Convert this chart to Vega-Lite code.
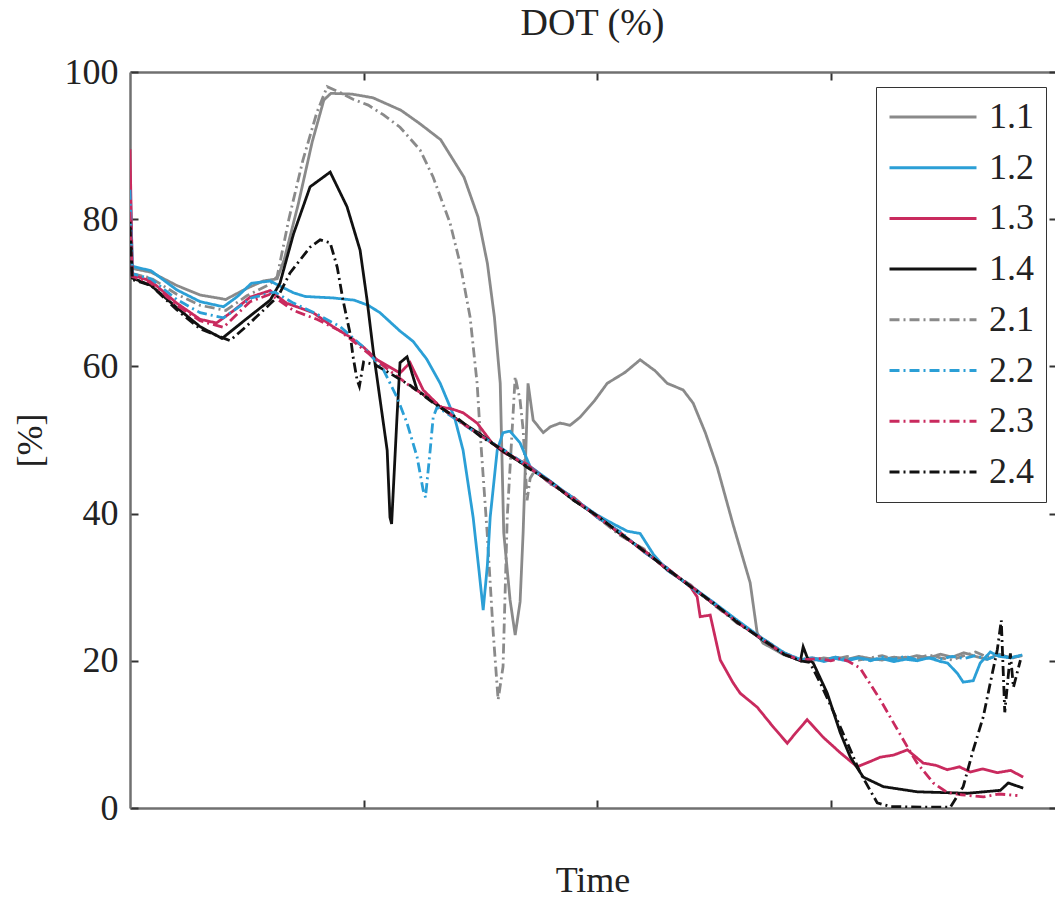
{
"$schema":"https://vega.github.io/schema/vega-lite/v6.json",
"width":925,"height":736,
"autosize":{"type":"none"},
"padding":{"left":130,"top":72,"right":0,"bottom":96},
"background":"white",
"title":{"text":"DOT (%)","font":"Liberation Serif","fontSize":38,"fontWeight":"normal","color":"#222222","offset":24,"baseline":"middle","dy":32},
"config":{"view":{"stroke":null},"axis":{"grid":false,"labelFont":"Liberation Serif","titleFont":"Liberation Serif","labelColor":"#222222","titleColor":"#222222","titleFontWeight":"normal","domainColor":"#707070","domainWidth":2.5,"tickColor":"#333333","tickWidth":2}},
"data":{"values":[
{"s":"1.1","t":0,"v":75},{"s":"1.1","t":0.01,"v":73.3},{"s":"1.1","t":0.09,"v":72.8},{"s":"1.1","t":0.2,"v":71},{"s":"1.1","t":0.3,"v":69.7},{"s":"1.1","t":0.41,"v":69.1},{"s":"1.1","t":0.5,"v":70.6},{"s":"1.1","t":0.57,"v":71.6},{"s":"1.1","t":0.63,"v":71.9},{"s":"1.1","t":0.66,"v":74.5},{"s":"1.1","t":0.72,"v":82},{"s":"1.1","t":0.78,"v":90.5},{"s":"1.1","t":0.83,"v":96.2},{"s":"1.1","t":0.86,"v":97.1},{"s":"1.1","t":0.95,"v":97},{"s":"1.1","t":1.04,"v":96.5},{"s":"1.1","t":1.16,"v":94.8},{"s":"1.1","t":1.24,"v":93},{"s":"1.1","t":1.33,"v":90.8},{"s":"1.1","t":1.43,"v":85.7},{"s":"1.1","t":1.49,"v":80.3},{"s":"1.1","t":1.53,"v":74},{"s":"1.1","t":1.56,"v":66.7},{"s":"1.1","t":1.585,"v":57.7},{"s":"1.1","t":1.6,"v":37.4},{"s":"1.1","t":1.627,"v":28.3},{"s":"1.1","t":1.649,"v":23.5},{"s":"1.1","t":1.67,"v":28},{"s":"1.1","t":1.683,"v":37.4},{"s":"1.1","t":1.704,"v":57.7},{"s":"1.1","t":1.726,"v":52.7},{"s":"1.1","t":1.769,"v":51},{"s":"1.1","t":1.8,"v":51.8},{"s":"1.1","t":1.842,"v":52.3},{"s":"1.1","t":1.884,"v":52},{"s":"1.1","t":1.927,"v":53.1},{"s":"1.1","t":1.99,"v":55.4},{"s":"1.1","t":2.043,"v":57.7},{"s":"1.1","t":2.12,"v":59.2},{"s":"1.1","t":2.184,"v":60.9},{"s":"1.1","t":2.248,"v":59.4},{"s":"1.1","t":2.3,"v":57.7},{"s":"1.1","t":2.368,"v":56.8},{"s":"1.1","t":2.411,"v":55},{"s":"1.1","t":2.463,"v":51},{"s":"1.1","t":2.514,"v":46.3},{"s":"1.1","t":2.582,"v":38.5},{"s":"1.1","t":2.655,"v":30.6},{"s":"1.1","t":2.685,"v":23.8},{"s":"1.1","t":2.71,"v":22.4},{"s":"1.1","t":2.75,"v":21.7},{"s":"1.1","t":2.8,"v":20.8},{"s":"1.1","t":2.87,"v":20.1},{"s":"1.1","t":2.92,"v":20.4},{"s":"1.1","t":2.97,"v":20.1},{"s":"1.1","t":3.02,"v":20.5},{"s":"1.1","t":3.07,"v":20.2},{"s":"1.1","t":3.12,"v":20.6},{"s":"1.1","t":3.17,"v":20.3},{"s":"1.1","t":3.22,"v":20.1},{"s":"1.1","t":3.27,"v":20.5},{"s":"1.1","t":3.32,"v":20.3},{"s":"1.1","t":3.37,"v":20.7},{"s":"1.1","t":3.42,"v":20.4},{"s":"1.1","t":3.47,"v":20.9},{"s":"1.1","t":3.52,"v":20.5},{"s":"1.1","t":3.57,"v":21.1},{"s":"1.1","t":3.62,"v":20.6},{"s":"1.1","t":3.67,"v":20.2},{"s":"1.1","t":3.72,"v":20.9},{"s":"1.1","t":3.77,"v":20.4},{"s":"1.1","t":3.82,"v":20.7},
{"s":"2.1","t":0,"v":78},{"s":"2.1","t":0.01,"v":72.6},{"s":"2.1","t":0.09,"v":72},{"s":"2.1","t":0.2,"v":69.8},{"s":"2.1","t":0.3,"v":68.3},{"s":"2.1","t":0.41,"v":67.6},{"s":"2.1","t":0.5,"v":69.6},{"s":"2.1","t":0.6,"v":71.2},{"s":"2.1","t":0.63,"v":72.2},{"s":"2.1","t":0.68,"v":80},{"s":"2.1","t":0.74,"v":88},{"s":"2.1","t":0.8,"v":94.5},{"s":"2.1","t":0.844,"v":98},{"s":"2.1","t":0.9,"v":97.2},{"s":"2.1","t":0.955,"v":96.3},{"s":"2.1","t":1.02,"v":95.5},{"s":"2.1","t":1.084,"v":94.2},{"s":"2.1","t":1.156,"v":92.5},{"s":"2.1","t":1.242,"v":89.4},{"s":"2.1","t":1.298,"v":85.7},{"s":"2.1","t":1.37,"v":79.5},{"s":"2.1","t":1.413,"v":74},{"s":"2.1","t":1.456,"v":66.7},{"s":"2.1","t":1.486,"v":57.7},{"s":"2.1","t":1.499,"v":51},{"s":"2.1","t":1.529,"v":37.4},{"s":"2.1","t":1.555,"v":23.8},{"s":"2.1","t":1.576,"v":14.7},{"s":"2.1","t":1.597,"v":19.2},{"s":"2.1","t":1.615,"v":39.5},{"s":"2.1","t":1.649,"v":58.6},{"s":"2.1","t":1.67,"v":55.4},{"s":"2.1","t":1.683,"v":51.4},{"s":"2.1","t":1.7,"v":41.8},{"s":"2.1","t":1.713,"v":44.8},{"s":"2.1","t":1.734,"v":45.9},{"s":"2.1","t":1.8,"v":44},{"s":"2.1","t":1.9,"v":42.2},{"s":"2.1","t":2.0,"v":39.5},{"s":"2.1","t":2.1,"v":37},{"s":"2.1","t":2.2,"v":35.2},{"s":"2.1","t":2.3,"v":32.3},{"s":"2.1","t":2.4,"v":30.3},{"s":"2.1","t":2.5,"v":27.6},{"s":"2.1","t":2.6,"v":25.1},{"s":"2.1","t":2.7,"v":23.2},{"s":"2.1","t":2.8,"v":21.1},{"s":"2.1","t":2.87,"v":20.2},{"s":"2.1","t":2.92,"v":20},{"s":"2.1","t":2.97,"v":20.4},{"s":"2.1","t":3.02,"v":20.2},{"s":"2.1","t":3.07,"v":20.6},{"s":"2.1","t":3.12,"v":20.1},{"s":"2.1","t":3.17,"v":20.4},{"s":"2.1","t":3.22,"v":20.7},{"s":"2.1","t":3.27,"v":20.2},{"s":"2.1","t":3.32,"v":20.5},{"s":"2.1","t":3.37,"v":20.3},{"s":"2.1","t":3.42,"v":20.8},{"s":"2.1","t":3.47,"v":20.4},{"s":"2.1","t":3.52,"v":20.1},{"s":"2.1","t":3.57,"v":20.7},{"s":"2.1","t":3.62,"v":21.2},{"s":"2.1","t":3.67,"v":20.5},{"s":"2.1","t":3.72,"v":20.9},{"s":"2.1","t":3.77,"v":20.3},{"s":"2.1","t":3.82,"v":20.8},
{"s":"1.2","t":0,"v":86},{"s":"1.2","t":0.01,"v":73.6},{"s":"1.2","t":0.09,"v":73},{"s":"1.2","t":0.2,"v":70.4},{"s":"1.2","t":0.3,"v":68.8},{"s":"1.2","t":0.4,"v":68.1},{"s":"1.2","t":0.46,"v":69.5},{"s":"1.2","t":0.52,"v":71.3},{"s":"1.2","t":0.6,"v":71.6},{"s":"1.2","t":0.65,"v":70.8},{"s":"1.2","t":0.7,"v":70},{"s":"1.2","t":0.75,"v":69.5},{"s":"1.2","t":0.87,"v":69.3},{"s":"1.2","t":0.96,"v":69},{"s":"1.2","t":1.02,"v":68.3},{"s":"1.2","t":1.07,"v":67.3},{"s":"1.2","t":1.156,"v":64.8},{"s":"1.2","t":1.212,"v":63.4},{"s":"1.2","t":1.27,"v":61},{"s":"1.2","t":1.328,"v":57.7},{"s":"1.2","t":1.39,"v":53},{"s":"1.2","t":1.426,"v":48.6},{"s":"1.2","t":1.469,"v":39.5},{"s":"1.2","t":1.495,"v":32},{"s":"1.2","t":1.512,"v":26.9},{"s":"1.2","t":1.53,"v":33},{"s":"1.2","t":1.542,"v":39.5},{"s":"1.2","t":1.572,"v":48.6},{"s":"1.2","t":1.597,"v":51},{"s":"1.2","t":1.627,"v":51.2},{"s":"1.2","t":1.67,"v":49.6},{"s":"1.2","t":1.713,"v":46.4},{"s":"1.2","t":1.8,"v":44.4},{"s":"1.2","t":1.9,"v":42},{"s":"1.2","t":2.0,"v":39.8},{"s":"1.2","t":2.069,"v":38.6},{"s":"1.2","t":2.13,"v":37.6},{"s":"1.2","t":2.184,"v":37.3},{"s":"1.2","t":2.24,"v":34.5},{"s":"1.2","t":2.3,"v":32.3},{"s":"1.2","t":2.4,"v":30.2},{"s":"1.2","t":2.5,"v":27.9},{"s":"1.2","t":2.6,"v":25.5},{"s":"1.2","t":2.7,"v":23.2},{"s":"1.2","t":2.8,"v":21.1},{"s":"1.2","t":2.87,"v":20.1},{"s":"1.2","t":2.92,"v":20.3},{"s":"1.2","t":2.97,"v":19.9},{"s":"1.2","t":3.02,"v":20.3},{"s":"1.2","t":3.07,"v":20},{"s":"1.2","t":3.12,"v":20.4},{"s":"1.2","t":3.17,"v":20.1},{"s":"1.2","t":3.22,"v":20.3},{"s":"1.2","t":3.27,"v":19.9},{"s":"1.2","t":3.32,"v":20.2},{"s":"1.2","t":3.37,"v":20},{"s":"1.2","t":3.42,"v":20.4},{"s":"1.2","t":3.47,"v":19.9},{"s":"1.2","t":3.5,"v":19.7},{"s":"1.2","t":3.542,"v":18.3},{"s":"1.2","t":3.567,"v":17.1},{"s":"1.2","t":3.61,"v":17.3},{"s":"1.2","t":3.64,"v":19.7},{"s":"1.2","t":3.683,"v":21.2},{"s":"1.2","t":3.72,"v":20.6},{"s":"1.2","t":3.77,"v":20.4},{"s":"1.2","t":3.82,"v":20.8},
{"s":"1.3","t":0,"v":89.5},{"s":"1.3","t":0.01,"v":72.4},{"s":"1.3","t":0.09,"v":71.6},{"s":"1.3","t":0.2,"v":68.6},{"s":"1.3","t":0.3,"v":66.4},{"s":"1.3","t":0.37,"v":65.9},{"s":"1.3","t":0.44,"v":67.5},{"s":"1.3","t":0.514,"v":69.4},{"s":"1.3","t":0.6,"v":70.3},{"s":"1.3","t":0.67,"v":68.6},{"s":"1.3","t":0.784,"v":67.3},{"s":"1.3","t":0.869,"v":65.4},{"s":"1.3","t":0.942,"v":64},{"s":"1.3","t":1.0,"v":62.6},{"s":"1.3","t":1.058,"v":60.9},{"s":"1.3","t":1.156,"v":59.1},{"s":"1.3","t":1.199,"v":60.5},{"s":"1.3","t":1.255,"v":56.8},{"s":"1.3","t":1.328,"v":54.5},{"s":"1.3","t":1.38,"v":54.2},{"s":"1.3","t":1.426,"v":53.7},{"s":"1.3","t":1.486,"v":52.3},{"s":"1.3","t":1.55,"v":49.6},{"s":"1.3","t":1.6,"v":48.3},{"s":"1.3","t":1.7,"v":46.7},{"s":"1.3","t":1.8,"v":44.1},{"s":"1.3","t":1.9,"v":42.1},{"s":"1.3","t":2.0,"v":39.5},{"s":"1.3","t":2.1,"v":37.4},{"s":"1.3","t":2.2,"v":34.8},{"s":"1.3","t":2.3,"v":32.6},{"s":"1.3","t":2.4,"v":30},{"s":"1.3","t":2.428,"v":28.7},{"s":"1.3","t":2.441,"v":26},{"s":"1.3","t":2.484,"v":26.2},{"s":"1.3","t":2.527,"v":20.1},{"s":"1.3","t":2.582,"v":17},{"s":"1.3","t":2.612,"v":15.6},{"s":"1.3","t":2.685,"v":13.7},{"s":"1.3","t":2.754,"v":11},{"s":"1.3","t":2.814,"v":8.8},{"s":"1.3","t":2.85,"v":10.2},{"s":"1.3","t":2.899,"v":12},{"s":"1.3","t":2.968,"v":9.6},{"s":"1.3","t":3.041,"v":7.5},{"s":"1.3","t":3.113,"v":5.6},{"s":"1.3","t":3.16,"v":6.2},{"s":"1.3","t":3.212,"v":6.9},{"s":"1.3","t":3.27,"v":7.2},{"s":"1.3","t":3.328,"v":7.9},{"s":"1.3","t":3.396,"v":6.1},{"s":"1.3","t":3.45,"v":5.8},{"s":"1.3","t":3.499,"v":5.2},{"s":"1.3","t":3.55,"v":5.6},{"s":"1.3","t":3.597,"v":4.9},{"s":"1.3","t":3.65,"v":5.3},{"s":"1.3","t":3.713,"v":4.8},{"s":"1.3","t":3.77,"v":5.1},{"s":"1.3","t":3.824,"v":4.2},
{"s":"1.4","t":0,"v":80},{"s":"1.4","t":0.01,"v":72},{"s":"1.4","t":0.09,"v":71},{"s":"1.4","t":0.2,"v":68},{"s":"1.4","t":0.3,"v":65.4},{"s":"1.4","t":0.394,"v":63.8},{"s":"1.4","t":0.5,"v":66.5},{"s":"1.4","t":0.6,"v":69},{"s":"1.4","t":0.642,"v":71.3},{"s":"1.4","t":0.7,"v":78},{"s":"1.4","t":0.771,"v":84.4},{"s":"1.4","t":0.857,"v":86.4},{"s":"1.4","t":0.929,"v":81.7},{"s":"1.4","t":0.985,"v":75.8},{"s":"1.4","t":1.015,"v":69},{"s":"1.4","t":1.041,"v":62.2},{"s":"1.4","t":1.071,"v":55.4},{"s":"1.4","t":1.101,"v":48.6},{"s":"1.4","t":1.113,"v":39.5},{"s":"1.4","t":1.12,"v":38.6},{"s":"1.4","t":1.143,"v":53.1},{"s":"1.4","t":1.156,"v":60.5},{"s":"1.4","t":1.186,"v":61.3},{"s":"1.4","t":1.229,"v":56.8},{"s":"1.4","t":1.3,"v":55.1},{"s":"1.4","t":1.4,"v":52.8},{"s":"1.4","t":1.5,"v":50.8},{"s":"1.4","t":1.6,"v":48.4},{"s":"1.4","t":1.7,"v":46.4},{"s":"1.4","t":1.8,"v":44.3},{"s":"1.4","t":1.9,"v":41.8},{"s":"1.4","t":2.0,"v":39.7},{"s":"1.4","t":2.1,"v":37.2},{"s":"1.4","t":2.2,"v":35},{"s":"1.4","t":2.3,"v":32.4},{"s":"1.4","t":2.4,"v":30.1},{"s":"1.4","t":2.5,"v":27.7},{"s":"1.4","t":2.6,"v":25.3},{"s":"1.4","t":2.7,"v":23},{"s":"1.4","t":2.8,"v":20.9},{"s":"1.4","t":2.87,"v":20},{"s":"1.4","t":2.882,"v":21.9},{"s":"1.4","t":2.9,"v":20.4},{"s":"1.4","t":2.925,"v":19.7},{"s":"1.4","t":2.985,"v":15.6},{"s":"1.4","t":3.041,"v":10.2},{"s":"1.4","t":3.084,"v":6.9},{"s":"1.4","t":3.139,"v":4.2},{"s":"1.4","t":3.225,"v":2.9},{"s":"1.4","t":3.37,"v":2.2},{"s":"1.4","t":3.585,"v":2},{"s":"1.4","t":3.726,"v":2.4},{"s":"1.4","t":3.76,"v":3.4},{"s":"1.4","t":3.824,"v":2.7},
{"s":"2.2","t":0,"v":84},{"s":"2.2","t":0.01,"v":72.6},{"s":"2.2","t":0.09,"v":71.9},{"s":"2.2","t":0.2,"v":69.1},{"s":"2.2","t":0.3,"v":67.3},{"s":"2.2","t":0.4,"v":66.6},{"s":"2.2","t":0.52,"v":69.3},{"s":"2.2","t":0.62,"v":70.1},{"s":"2.2","t":0.7,"v":68.6},{"s":"2.2","t":0.8,"v":67.1},{"s":"2.2","t":0.9,"v":65.4},{"s":"2.2","t":1.0,"v":62.6},{"s":"2.2","t":1.084,"v":59.6},{"s":"2.2","t":1.143,"v":55.8},{"s":"2.2","t":1.186,"v":52.3},{"s":"2.2","t":1.229,"v":47.7},{"s":"2.2","t":1.255,"v":43.2},{"s":"2.2","t":1.265,"v":42.2},{"s":"2.2","t":1.285,"v":48.6},{"s":"2.2","t":1.298,"v":53.1},{"s":"2.2","t":1.315,"v":54.5},{"s":"2.2","t":1.4,"v":52.7},{"s":"2.2","t":1.5,"v":50.6},{"s":"2.2","t":1.6,"v":48.7},{"s":"2.2","t":1.7,"v":46.5},{"s":"2.2","t":1.8,"v":44.2},{"s":"2.2","t":1.9,"v":42.1},{"s":"2.2","t":2.0,"v":39.5},{"s":"2.2","t":2.1,"v":37.5},{"s":"2.2","t":2.2,"v":34.8},{"s":"2.2","t":2.3,"v":32.6},{"s":"2.2","t":2.4,"v":30},{"s":"2.2","t":2.5,"v":27.8},{"s":"2.2","t":2.6,"v":25.4},{"s":"2.2","t":2.7,"v":23.1},{"s":"2.2","t":2.8,"v":21},{"s":"2.2","t":2.87,"v":20.2},{"s":"2.2","t":2.92,"v":20.4},{"s":"2.2","t":2.97,"v":20.1},{"s":"2.2","t":3.02,"v":20.5},{"s":"2.2","t":3.07,"v":20.2},{"s":"2.2","t":3.12,"v":20.4},{"s":"2.2","t":3.17,"v":20},{"s":"2.2","t":3.22,"v":20.5},{"s":"2.2","t":3.27,"v":20.2},{"s":"2.2","t":3.32,"v":20.6},{"s":"2.2","t":3.37,"v":20.1},{"s":"2.2","t":3.42,"v":20.4},{"s":"2.2","t":3.47,"v":20.2},{"s":"2.2","t":3.52,"v":20.6},{"s":"2.2","t":3.57,"v":20.3},{"s":"2.2","t":3.62,"v":20.7},{"s":"2.2","t":3.67,"v":20.2},{"s":"2.2","t":3.72,"v":20.8},{"s":"2.2","t":3.77,"v":20.4},{"s":"2.2","t":3.82,"v":20.7},
{"s":"2.3","t":0,"v":81},{"s":"2.3","t":0.01,"v":72.2},{"s":"2.3","t":0.09,"v":71.3},{"s":"2.3","t":0.2,"v":68.3},{"s":"2.3","t":0.3,"v":66.2},{"s":"2.3","t":0.4,"v":65.3},{"s":"2.3","t":0.514,"v":68.8},{"s":"2.3","t":0.6,"v":69.8},{"s":"2.3","t":0.7,"v":67.6},{"s":"2.3","t":0.8,"v":66.4},{"s":"2.3","t":0.9,"v":64.8},{"s":"2.3","t":1.0,"v":62.3},{"s":"2.3","t":1.1,"v":59.7},{"s":"2.3","t":1.2,"v":57.3},{"s":"2.3","t":1.3,"v":55.3},{"s":"2.3","t":1.4,"v":52.8},{"s":"2.3","t":1.5,"v":50.6},{"s":"2.3","t":1.6,"v":48.6},{"s":"2.3","t":1.7,"v":46.4},{"s":"2.3","t":1.8,"v":44.3},{"s":"2.3","t":1.9,"v":41.9},{"s":"2.3","t":2.0,"v":39.7},{"s":"2.3","t":2.1,"v":37.2},{"s":"2.3","t":2.2,"v":35},{"s":"2.3","t":2.3,"v":32.4},{"s":"2.3","t":2.4,"v":30.2},{"s":"2.3","t":2.5,"v":27.7},{"s":"2.3","t":2.6,"v":25.2},{"s":"2.3","t":2.7,"v":23.1},{"s":"2.3","t":2.8,"v":20.9},{"s":"2.3","t":2.87,"v":20.1},{"s":"2.3","t":2.95,"v":20.3},{"s":"2.3","t":3.0,"v":20},{"s":"2.3","t":3.04,"v":20.3},{"s":"2.3","t":3.071,"v":20},{"s":"2.3","t":3.126,"v":19},{"s":"2.3","t":3.212,"v":14.7},{"s":"2.3","t":3.27,"v":11.5},{"s":"2.3","t":3.328,"v":8.3},{"s":"2.3","t":3.37,"v":6.1},{"s":"2.3","t":3.439,"v":3.4},{"s":"2.3","t":3.499,"v":2.1},{"s":"2.3","t":3.56,"v":1.8},{"s":"2.3","t":3.653,"v":1.5},{"s":"2.3","t":3.72,"v":1.9},{"s":"2.3","t":3.799,"v":1.7},
{"s":"2.4","t":0,"v":79},{"s":"2.4","t":0.01,"v":71.8},{"s":"2.4","t":0.09,"v":71},{"s":"2.4","t":0.2,"v":67.7},{"s":"2.4","t":0.3,"v":65.1},{"s":"2.4","t":0.428,"v":63.5},{"s":"2.4","t":0.5,"v":65.5},{"s":"2.4","t":0.6,"v":68.5},{"s":"2.4","t":0.634,"v":69.5},{"s":"2.4","t":0.685,"v":72.7},{"s":"2.4","t":0.771,"v":76.2},{"s":"2.4","t":0.814,"v":77.2},{"s":"2.4","t":0.857,"v":76.8},{"s":"2.4","t":0.887,"v":73.5},{"s":"2.4","t":0.912,"v":69},{"s":"2.4","t":0.942,"v":64.5},{"s":"2.4","t":0.955,"v":61.3},{"s":"2.4","t":0.972,"v":58.2},{"s":"2.4","t":0.982,"v":57.3},{"s":"2.4","t":1.0,"v":60.6},{"s":"2.4","t":1.05,"v":60.2},{"s":"2.4","t":1.1,"v":59.3},{"s":"2.4","t":1.2,"v":57.4},{"s":"2.4","t":1.3,"v":55},{"s":"2.4","t":1.4,"v":53},{"s":"2.4","t":1.5,"v":50.5},{"s":"2.4","t":1.6,"v":48.6},{"s":"2.4","t":1.7,"v":46.3},{"s":"2.4","t":1.8,"v":44.3},{"s":"2.4","t":1.9,"v":41.8},{"s":"2.4","t":2.0,"v":39.7},{"s":"2.4","t":2.1,"v":37.3},{"s":"2.4","t":2.2,"v":34.9},{"s":"2.4","t":2.3,"v":32.5},{"s":"2.4","t":2.4,"v":30.1},{"s":"2.4","t":2.5,"v":27.8},{"s":"2.4","t":2.6,"v":25.2},{"s":"2.4","t":2.7,"v":23.1},{"s":"2.4","t":2.8,"v":20.9},{"s":"2.4","t":2.87,"v":20},{"s":"2.4","t":2.91,"v":19.8},{"s":"2.4","t":2.955,"v":17},{"s":"2.4","t":3.02,"v":12.5},{"s":"2.4","t":3.084,"v":7.9},{"s":"2.4","t":3.126,"v":4.8},{"s":"2.4","t":3.199,"v":0.7},{"s":"2.4","t":3.255,"v":0.2},{"s":"2.4","t":3.4,"v":0.1},{"s":"2.4","t":3.512,"v":0.1},{"s":"2.4","t":3.567,"v":2.9},{"s":"2.4","t":3.61,"v":7.9},{"s":"2.4","t":3.653,"v":12.4},{"s":"2.4","t":3.683,"v":17},{"s":"2.4","t":3.713,"v":21.5},{"s":"2.4","t":3.73,"v":25.5},{"s":"2.4","t":3.745,"v":13},{"s":"2.4","t":3.769,"v":21},{"s":"2.4","t":3.782,"v":16.4},{"s":"2.4","t":3.812,"v":20.1}
]},
"resolve":{"axis":{"x":"independent","y":"independent"}},
"layer":[
{"mark":{"type":"line","strokeWidth":2.8,"clip":true},
 "encoding":{
  "x":{"field":"t","type":"quantitative","scale":{"domain":[0,3.96],"nice":false,"zero":false},"axis":{"orient":"bottom","values":[1,2,3],"labels":false,"tickSize":-8,"title":"Time","titleFontSize":36,"titleY":72,"titleBaseline":"middle"}},
  "y":{"field":"v","type":"quantitative","scale":{"domain":[0,100],"nice":false},"axis":{"orient":"left","values":[0,20,40,60,80,100],"tickSize":-8,"labelFontSize":36,"labelPadding":20,"title":"[%]","titleFontSize":36,"titleX":-100,"titleY":368,"titleBaseline":"middle"}},
  "color":{"field":"s","type":"nominal","scale":{"domain":["1.1","1.2","1.3","1.4","2.1","2.2","2.3","2.4"],"range":["#8a8a8a","#2b9fd6","#c92a5e","#111111","#8a8a8a","#2b9fd6","#c92a5e","#111111"]},
   "legend":{"title":null,"orient":"none","legendX":746,"legendY":15,"padding":12,"fillColor":"white","strokeColor":"#333333","symbolType":"stroke","symbolSize":7569,"symbolStrokeWidth":3,"clipHeight":36,"rowPadding":14.7,"labelFont":"Liberation Serif","labelFontSize":36,"labelColor":"#222222","labelOffset":11}},
  "strokeDash":{"field":"s","type":"nominal","scale":{"domain":["1.1","1.2","1.3","1.4","2.1","2.2","2.3","2.4"],"range":[[1,0],[1,0],[1,0],[1,0],[10,4,2,4],[10,4,2,4],[10,4,2,4],[10,4,2,4]]},
   "legend":{"title":null,"orient":"none","legendX":746,"legendY":15,"padding":12,"fillColor":"white","strokeColor":"#333333","symbolType":"stroke","symbolSize":7569,"symbolStrokeWidth":3,"clipHeight":36,"rowPadding":14.7,"labelFont":"Liberation Serif","labelFontSize":36,"labelColor":"#222222","labelOffset":11}}
 }},
{"mark":{"type":"line","opacity":0},
 "encoding":{
  "x":{"field":"t","type":"quantitative","scale":{"domain":[0,3.96],"nice":false,"zero":false},"axis":{"orient":"top","values":[1,2,3],"labels":false,"tickSize":-8,"title":null}},
  "y":{"field":"v","type":"quantitative","scale":{"domain":[0,100],"nice":false},"axis":{"orient":"right","values":[0,20,40,60,80,100],"labels":false,"domain":false,"tickSize":-6,"title":null}},
  "detail":{"field":"s","type":"nominal"}
 }}
]
}
